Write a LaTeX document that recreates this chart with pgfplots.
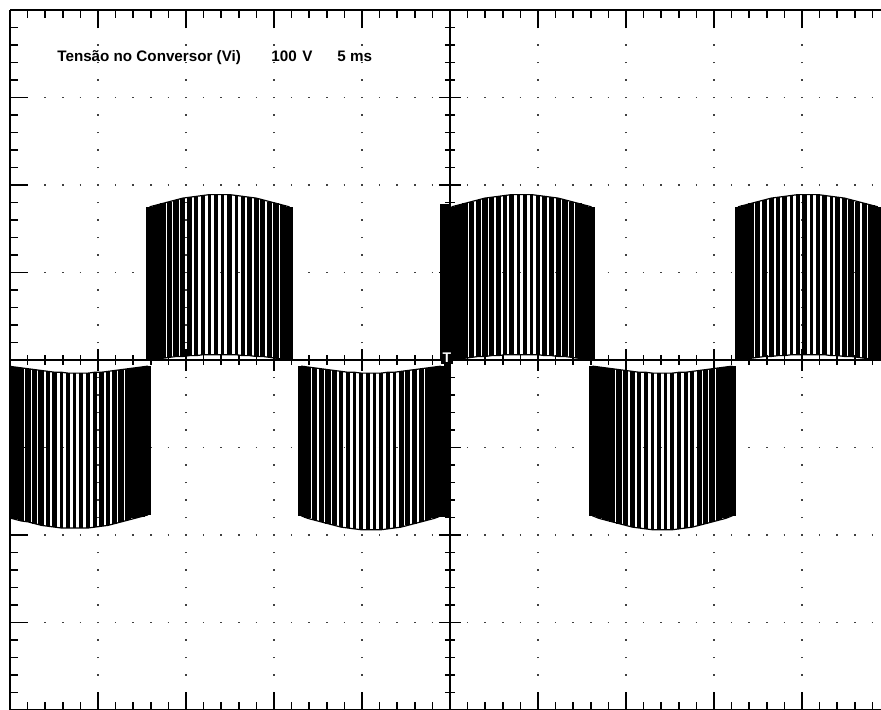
\documentclass[border=0pt]{standalone}
\usepackage{fontspec}
\setmainfont{Liberation Sans}
\usepackage{pgfplots}
\pgfplotsset{compat=1.18}
\usepackage{pgfplotstable}

% positive half cycles: x (ms), top level (V), low level (V), width class
\pgfplotstableread{
x top low w
7.929 175 0 1
8.308 177 1 1
8.687 179 2 1
9.066 181 3 2
9.445 183 4 2
9.823 185 4 3
10.202 186 5 3
10.581 187 5 4
10.960 188 6 4
11.338 189 6 5
11.717 189 6 4
12.096 189 6 5
12.475 189 6 4
12.854 188 6 5
13.232 187 5 4
13.611 186 5 4
13.990 185 4 3
14.369 183 4 3
14.748 181 3 2
15.126 179 2 2
15.505 177 1 1
15.884 175 0 1
nan nan nan nan
25.089 175 0 1
25.468 177 1 1
25.847 179 2 2
26.226 181 3 2
26.605 183 4 3
26.983 185 4 2
27.362 186 5 4
27.741 187 5 3
28.120 188 6 5
28.498 189 6 4
28.877 189 6 5
29.256 189 6 4
29.635 189 6 5
30.014 188 6 4
30.392 187 5 3
30.771 186 5 4
31.150 185 4 3
31.529 183 4 2
31.908 181 3 2
32.286 179 2 1
32.665 177 1 1
33.044 175 0 1
nan nan nan nan
41.359 175 0 1
41.738 177 1 1
42.117 179 2 2
42.496 181 3 3
42.875 183 4 2
43.253 185 4 3
43.632 186 5 4
44.011 187 5 4
44.390 188 6 5
44.768 189 6 5
45.147 189 6 4
45.526 189 6 5
45.905 189 6 4
46.284 188 6 4
46.662 187 5 5
47.041 186 5 3
47.420 185 4 3
47.799 183 4 2
48.178 181 3 3
48.556 179 2 2
48.935 177 1 1
49.314 175 0 1
}\tabpos

% negative half cycles
\pgfplotstableread{
x top low w
-0.111 -180 -7 1
0.268 -182 -8 1
0.647 -184 -9 2
1.026 -185 -10 2
1.405 -187 -11 3
1.783 -189 -12 2
2.162 -190 -13 4
2.541 -191 -14 3
2.920 -192 -14 5
3.298 -192 -15 4
3.677 -192 -15 5
4.056 -192 -15 4
4.435 -192 -15 5
4.814 -191 -14 4
5.192 -190 -14 3
5.571 -189 -13 4
5.950 -187 -12 3
6.329 -185 -11 2
6.708 -183 -10 2
7.086 -181 -9 1
7.465 -179 -8 1
7.844 -177 -7 1
nan nan nan nan
16.539 -178 -7 1
16.918 -181 -8 1
17.297 -183 -9 2
17.676 -185 -10 3
18.055 -187 -11 2
18.433 -189 -12 3
18.812 -191 -13 4
19.191 -192 -14 4
19.570 -193 -14 5
19.948 -194 -15 5
20.327 -194 -15 4
20.706 -194 -15 5
21.085 -194 -15 4
21.464 -193 -14 4
21.842 -192 -14 5
22.221 -191 -13 3
22.600 -189 -12 3
22.979 -187 -11 2
23.358 -185 -10 3
23.736 -183 -9 2
24.115 -181 -8 1
24.494 -178 -7 1
nan nan nan nan
33.089 -178 -7 1
33.468 -181 -8 1
33.847 -183 -9 1
34.226 -185 -10 2
34.605 -187 -11 2
34.983 -189 -12 3
35.362 -191 -13 3
35.741 -192 -14 4
36.120 -193 -14 4
36.498 -194 -15 5
36.877 -194 -15 4
37.256 -194 -15 5
37.635 -194 -15 4
38.014 -193 -14 5
38.392 -192 -14 4
38.771 -191 -13 4
39.150 -189 -12 3
39.529 -187 -11 3
39.908 -185 -10 2
40.286 -183 -9 2
40.665 -181 -8 1
41.044 -178 -7 1
}\tabneg

\begin{document}
\begin{tikzpicture}
\begin{axis}[
  at={(0,0)}, anchor=south west,
  scale only axis, width=435.5pt, height=350pt,
  xmin=0, xmax=49.49, ymin=-400, ymax=400,
  axis x line*=box, axis y line*=left,
  axis line style={line width=0.75pt, black},
  xtick={0,5,...,45}, ytick={-400,-300,...,400},
  minor xtick={0,1,...,49}, minor ytick={-400,-380,...,400},
  xticklabels={}, yticklabels={},
  tick align=inside,
  major tick length=9pt, minor tick length=4pt,
  tick style={black, line width=0.75pt},
  grid=major,
  x grid style={black!75, line width=0.8pt, dash pattern=on 0.8pt off 7.95pt, dash phase=0.4pt},
  y grid style={black!75, line width=0.8pt, dash pattern=on 0.8pt off 8pt, dash phase=0.4pt},
]
% pulse bars
\addplot[ycomb, black, line width=3.3pt, restrict expr to domain={\thisrow{w}}{0.5:1.5}] table[x=x, y=top] {\tabpos};
\addplot[ycomb, black, line width=2.9pt, restrict expr to domain={\thisrow{w}}{1.5:2.5}] table[x=x, y=top] {\tabpos};
\addplot[ycomb, black, line width=2.5pt, restrict expr to domain={\thisrow{w}}{2.5:3.5}] table[x=x, y=top] {\tabpos};
\addplot[ycomb, black, line width=2.1pt, restrict expr to domain={\thisrow{w}}{3.5:4.5}] table[x=x, y=top] {\tabpos};
\addplot[ycomb, black, line width=1.6pt, restrict expr to domain={\thisrow{w}}{4.5:5.5}] table[x=x, y=top] {\tabpos};
\addplot[ycomb, black, line width=3.3pt, restrict expr to domain={\thisrow{w}}{0.5:1.5}] table[x=x, y=top] {\tabneg};
\addplot[ycomb, black, line width=2.9pt, restrict expr to domain={\thisrow{w}}{1.5:2.5}] table[x=x, y=top] {\tabneg};
\addplot[ycomb, black, line width=2.5pt, restrict expr to domain={\thisrow{w}}{2.5:3.5}] table[x=x, y=top] {\tabneg};
\addplot[ycomb, black, line width=2.1pt, restrict expr to domain={\thisrow{w}}{3.5:4.5}] table[x=x, y=top] {\tabneg};
\addplot[ycomb, black, line width=1.6pt, restrict expr to domain={\thisrow{w}}{4.5:5.5}] table[x=x, y=top] {\tabneg};
% dense burst at the trigger point
\addplot[ycomb, black, line width=5.3pt] coordinates {(24.72,178) (24.72,-180)};
% clear the region between zero and the low level
\addplot[ycomb, white, line width=3.4pt] table[x=x, y=low] {\tabpos};
\addplot[ycomb, white, line width=3.4pt] table[x=x, y=low] {\tabneg};
% trace envelopes
\addplot[black, line width=0.6pt, unbounded coords=jump] table[x=x, y=top] {\tabpos};
\addplot[black, line width=0.6pt, unbounded coords=jump] table[x=x, y=low] {\tabpos};
\addplot[black, line width=0.6pt, unbounded coords=jump] table[x=x, y=top] {\tabneg};
\addplot[black, line width=0.6pt, unbounded coords=jump] table[x=x, y=low] {\tabneg};

\node[anchor=base west, inner sep=0pt, font=\bfseries\fontsize{7.6}{9}\selectfont] at (axis cs:2.67,340.6) {Tensão no Conversor (Vi)};
\node[anchor=base west, inner sep=0pt, font=\bfseries\fontsize{7.6}{9}\selectfont] at (axis cs:14.83,340.6) {100};
\node[anchor=base west, inner sep=0pt, font=\bfseries\fontsize{7.6}{9}\selectfont] at (axis cs:16.59,340.6) {V};
\node[anchor=base west, inner sep=0pt, font=\bfseries\fontsize{7.6}{9}\selectfont] at (axis cs:18.58,340.6) {5 ms};
\end{axis}

\begin{axis}[
  at={(0,0)}, anchor=south west,
  scale only axis, width=435.5pt, height=350pt,
  xmin=-25, xmax=24.49, ymin=-400, ymax=400,
  axis lines*=middle,
  axis line style={line width=0.75pt, black},
  xtick={-25,-20,...,20}, ytick={-400,-300,...,400},
  minor xtick={-25,-24,...,24}, minor ytick={-400,-380,...,400},
  xticklabels={}, yticklabels={},
  tick align=center,
  major tick length=11pt, minor tick length=5pt,
  tick style={black, line width=0.75pt},
]
\node[fill=black, text=white, inner sep=1pt, font=\bfseries\fontsize{7}{7}\selectfont] at (axis cs:-0.17,3) {T};
\end{axis}
\pgfresetboundingbox
\path[use as bounding box] (-5pt,0) rectangle (435.5pt,355pt);
\end{tikzpicture}
\end{document}
